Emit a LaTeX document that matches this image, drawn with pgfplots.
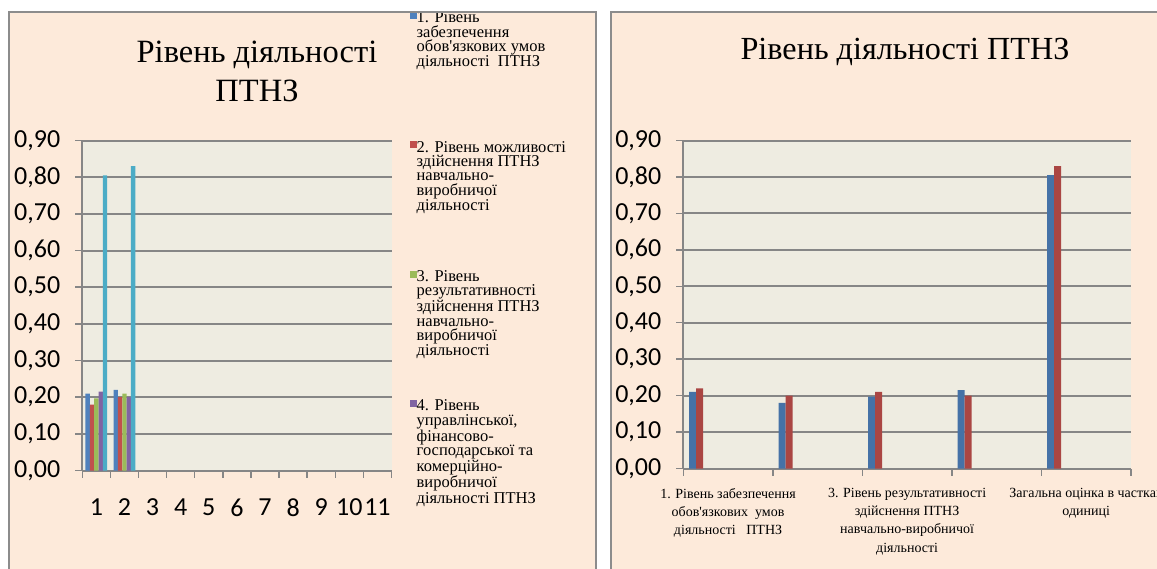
\documentclass[border=0pt]{standalone}
\usepackage{fontspec}
\setmainfont{Liberation Serif}
\newfontfamily\calibri{Carlito}
\usepackage{pgfplots}
\pgfplotsset{compat=1.18}
\definecolor{peach}{RGB}{253,234,218}
\definecolor{plotbg}{RGB}{238,236,225}
\definecolor{gridc}{RGB}{134,134,134}
\definecolor{framec}{RGB}{140,140,140}
\definecolor{s1}{RGB}{79,129,189}
\definecolor{s2}{RGB}{192,80,77}
\definecolor{s3}{RGB}{155,187,89}
\definecolor{s4}{RGB}{128,100,162}
\definecolor{s5}{RGB}{75,172,198}
\definecolor{r1}{RGB}{69,114,167}
\definecolor{r2}{RGB}{170,70,67}
\pgfplotsset{
  excel/.style={
    scale only axis,
    ymin=0, ymax=0.9,
    ytick={0,0.1,0.2,0.3,0.4,0.5,0.6,0.7,0.8,0.9},
    /pgf/number format/assume math mode=true,
    yticklabel={\pgfmathprintnumber[fixed,fixed zerofill,precision=2,use comma]{\tick}},
    yticklabel style={xshift=-11.5pt},
    xticklabel={\phantom{0}},
    axis background/.style={fill=plotbg},
    axis x line*=bottom, axis y line*=left,
    axis line style={draw=gridc, line width=2pt},
    ymajorgrids, major grid style={draw=gridc, line width=2pt},
    tick align=outside, major tick length=7pt,
    tick style={draw=gridc, line width=1.5pt},
    ticklabel style={font=\calibri\fontsize{26}{26}\selectfont},
    clip=false,
  }
}
\begin{document}
\begin{tikzpicture}
\useasboundingbox (0,0) rectangle (1157pt,568pt);
\fill[white] (0,0) rectangle (1157pt,568pt);
\begin{scope}
\clip (0,0) rectangle (1157pt,568pt);
\fill[peach] (8.5pt,-5pt) rectangle (595.5pt,555.5pt);
\fill[peach] (611pt,-5pt) rectangle (1170pt,555.5pt);
\begin{scope}
\clip (9.5pt,-5pt) rectangle (594.5pt,554.5pt);
\begin{axis}[excel,
  at={(82.3pt,97.5pt)}, anchor=south west,
  width=309.2pt, height=330pt,
  xmin=0.5, xmax=11.5,
  xtick={0.5,1.5,...,11.5},
  extra x ticks={1,2,3,4,5,6,7,8,9,10,11},
  extra x tick labels={1,2,3,4,5,6,7,8,9,10,11},
  extra x tick style={major tick length=0pt, grid=none,
    tick label style={yshift=-25pt}},
  ybar=0pt, bar width=4.35pt,
  legend style={at={(1.050,1.400)}, anchor=north west, draw=none, fill=none,
    font=\rmfamily\fontsize{16.5}{14.4}\selectfont, row sep=115pt, column sep=-1.5pt,
    nodes={inner sep=1pt}},
  legend cell align=left,
  legend image code/.code={\fill[#1,draw=none] (0pt,-1pt) rectangle (7pt,6pt);},
]
\addplot[ybar, fill=s1, draw=none] coordinates {(1,0.21) (2,0.22)};
\addplot[ybar, fill=s2, draw=none] coordinates {(1,0.18) (2,0.20)};
\addplot[ybar, fill=s3, draw=none] coordinates {(1,0.197) (2,0.21)};
\addplot[ybar, fill=s4, draw=none] coordinates {(1,0.215) (2,0.20)};
\addplot[ybar, fill=s5, draw=none] coordinates {(1,0.805) (2,0.83)};
\legend{
  {\parbox[t]{178pt}{1. Рівень\\забезпечення\\обов\textquotesingle язкових умов\\діяльності\ \ ПТНЗ}},
  {\parbox[t]{178pt}{2. Рівень можливості\\здійснення ПТНЗ\\навчально-\\виробничої\\діяльності}},
  {\parbox[t]{178pt}{3. Рівень\\результативності\\здійснення ПТНЗ\\навчально-\\виробничої\\діяльності}},
  {\parbox[t]{178pt}{4. Рівень\\управлінської,\\фінансово-\\господарської та\\комерційно-\\виробничої\\діяльності ПТНЗ}}
}
\end{axis}
\node[font=\rmfamily\fontsize{32.5}{39}\selectfont, align=center] at (257pt,496.5pt) {Рівень діяльності\\ПТНЗ};
\end{scope}
\begin{axis}[excel,
  at={(683.3pt,99.5pt)}, anchor=south west,
  width=447.7pt, height=328pt,
  xmin=0.5, xmax=5.5,
  xtick={0.5,1.5,...,5.5},
  extra x ticks={1,3,5},
  extra x tick labels={{1. Рівень забезпечення\\обов\textquotesingle язкових\ \ умов\\діяльності\ \ \ ПТНЗ},{3. Рівень результативності\\здійснення ПТНЗ\\навчально-виробничої\\діяльності},{Загальна оцінка в частках\\одиниці}},
  extra x tick style={major tick length=0pt, grid=none,
    tick label style={font=\rmfamily\fontsize{14}{18.3}\selectfont, align=center, yshift=-16pt}},
]
\addplot[ybar, bar width=7pt, bar shift=-35.5pt, fill=r1, draw=none] coordinates {(1,0.21) (2,0.18) (3,0.197) (4,0.215) (5,0.805)};
\addplot[ybar, bar width=7pt, bar shift=-28.5pt, fill=r2, draw=none] coordinates {(1,0.22) (2,0.20) (3,0.21) (4,0.20) (5,0.83)};
\end{axis}
\node[font=\rmfamily\fontsize{32.2}{32}\selectfont] at (905pt,516pt) {Рівень діяльності ПТНЗ};
\draw[framec, line width=2pt] (8.5pt,-5pt) -- (8.5pt,555.5pt) -- (595.5pt,555.5pt) -- (595.5pt,-5pt);
\draw[framec, line width=2pt] (611pt,-5pt) -- (611pt,555.5pt) -- (1170pt,555.5pt);
\end{scope}
\end{tikzpicture}
\end{document}
